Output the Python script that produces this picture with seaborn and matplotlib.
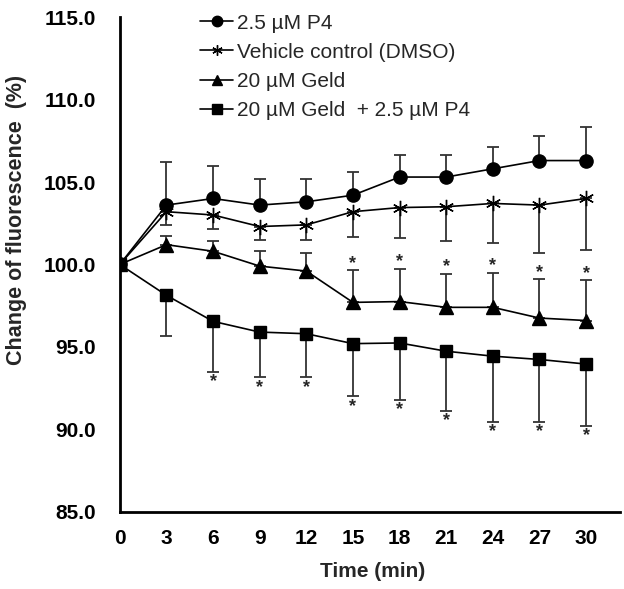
import matplotlib
matplotlib.use("Agg")
import matplotlib.pyplot as plt
import seaborn as sns
import pandas as pd
import numpy as np

# ---- data ----
time = [0, 3, 6, 9, 12, 15, 18, 21, 24, 27, 30]
p4 = [100.0, 103.6, 104.0, 103.6, 103.8, 104.2, 105.3, 105.3, 105.8, 106.3, 106.3]
p4_err = [0.0, 2.6, 2.0, 1.6, 1.4, 1.4, 1.35, 1.35, 1.35, 1.5, 2.05]
vehicle = [100.0, 103.2, 103.0, 102.3, 102.4, 103.2, 103.45, 103.5, 103.7, 103.6, 104.0]
vehicle_err = [0.0, 0.8, 0.85, 0.8, 0.9, 1.55, 1.85, 2.05, 2.4, 2.9, 3.15]
geld = [100.0, 101.2, 100.8, 99.9, 99.6, 97.7, 97.75, 97.4, 97.4, 96.75, 96.6]
geld_err = [0.0, 0.5, 0.65, 0.9, 1.1, 1.96, 1.99, 2.04, 2.1, 2.35, 2.45]
combo = [100.0, 98.13, 96.55, 95.9, 95.8, 95.2, 95.24, 94.74, 94.44, 94.24, 93.96]
combo_err = [0.0, 2.47, 3.05, 2.75, 2.65, 3.2, 3.44, 3.64, 4.0, 3.8, 3.74]
geld_sig = [False, False, False, False, False, True, True, True, True, True, True]
combo_sig = [False, False, True, True, True, True, True, True, True, True, True]

labels = ["2.5 µM P4", "Vehicle control (DMSO)", "20 µM Geld", "20 µM Geld  + 2.5 µM P4"]
xticks = [0, 3, 6, 9, 12, 15, 18, 21, 24, 27, 30]
yticks = [85, 90, 95, 100, 105, 110, 115]

sns.set_theme(style="white")
plt.rcParams['font.family'] = ['Liberation Sans', 'DejaVu Sans']

fig = plt.figure(figsize=(6.24, 5.89), dpi=100)
ax = fig.add_axes([0.192, 0.131, 0.802, 0.840])

series = [
    (p4, p4_err, 'o', 9.5, 'up', labels[0]),
    (vehicle, vehicle_err, (6, 2, 0), 11, 'down', labels[1]),
    (geld, geld_err, '^', 10.5, 'up', labels[2]),
    (combo, combo_err, 's', 9, 'down', labels[3]),
]

for vals, err, mk, ms, direction, lab in series:
    df = pd.DataFrame({"time": time, "value": vals})
    sns.lineplot(data=df, x="time", y="value", ax=ax, color="black", lw=1.2,
                 marker=mk, markersize=ms, markeredgecolor="black",
                 markerfacecolor="black", markeredgewidth=1.0, label=lab, zorder=3)
    t = np.array(time[1:])
    v = np.array(vals[1:])
    e = np.array(err[1:])
    if direction == 'up':
        yerr = [np.zeros_like(e), e]
    else:
        yerr = [e, np.zeros_like(e)]
    ax.errorbar(t, v, yerr=yerr, fmt='none', ecolor='#333333', elinewidth=1.3,
                capsize=4, capthick=1.3, zorder=2)

# significance asterisks
for ti, v, e, s in zip(time, geld, geld_err, geld_sig):
    if s:
        ax.annotate("*", (ti, v + e), xytext=(0, 5), textcoords="offset points",
                    ha="center", va="center", fontsize=13, fontweight="bold")
for ti, v, e, s in zip(time, combo, combo_err, combo_sig):
    if s:
        ax.annotate("*", (ti, v - e), xytext=(0, -7), textcoords="offset points",
                    ha="center", va="center", fontsize=13, fontweight="bold")

ax.set_xlim(0, 32.2)
ax.set_ylim(85, 115)
ax.set_xticks(xticks)
ax.set_yticks(yticks)
ax.set_yticklabels([f"{y:.1f}" for y in yticks])
ax.tick_params(direction='in', length=5, width=1.5, labelsize=15, colors='black')
ax.tick_params(axis='x', pad=12)
ax.tick_params(axis='y', pad=17)
for lbl in ax.get_xticklabels() + ax.get_yticklabels():
    lbl.set_fontweight('bold')

for side in ['top', 'right']:
    ax.spines[side].set_visible(False)
for side in ['left', 'bottom']:
    ax.spines[side].set_color('black')
    ax.spines[side].set_linewidth(2)

ax.set_xlabel("Time (min)", fontsize=15, fontweight='bold')
ax.set_ylabel("Change of fluorescence  (%)", fontsize=15.5, fontweight='bold')
ax.xaxis.set_label_coords(0.506, -0.12)
ax.xaxis.label.set_verticalalignment('center')
ax.yaxis.set_label_coords(-0.206, 0.59)
ax.yaxis.label.set_verticalalignment('center')

leg = ax.legend(loc="upper left", bbox_to_anchor=(0.3205, 0.977),
                bbox_transform=fig.transFigure, frameon=False,
                fontsize=15, handlelength=1.6, handletextpad=0.2, labelspacing=0.49,
                borderaxespad=0, borderpad=0)
for h in leg.legend_handles:
    h.set_markersize(7.5)

fig.savefig("out.png", dpi=100)
